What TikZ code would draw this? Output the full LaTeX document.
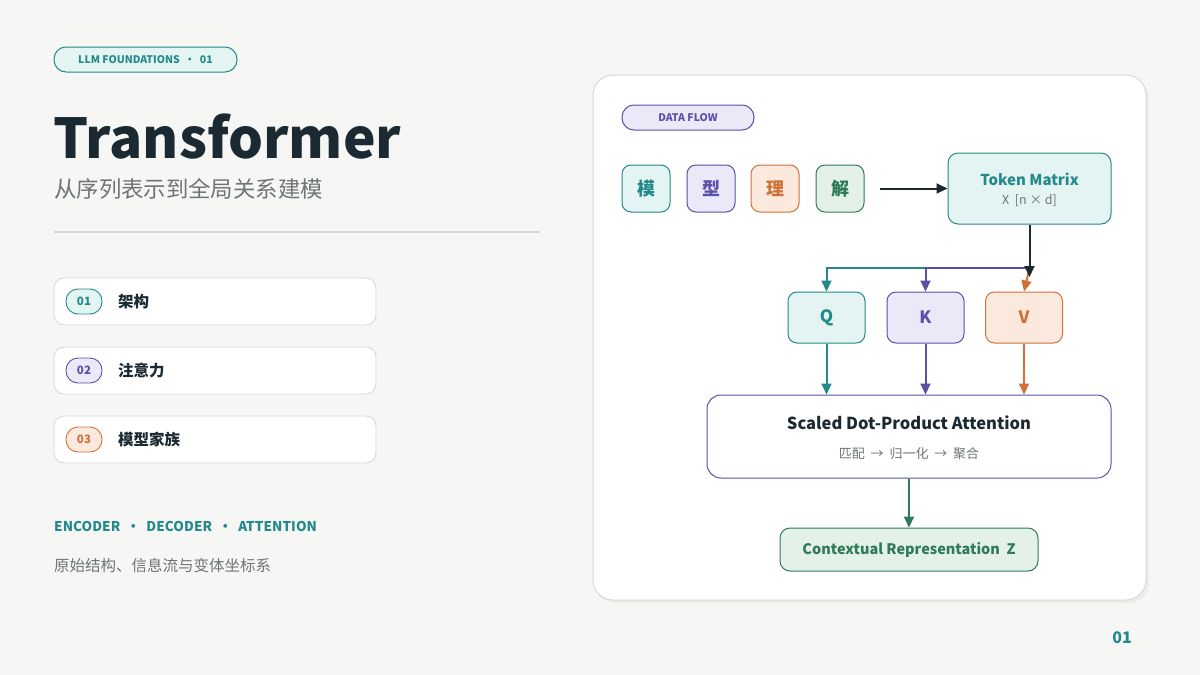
\documentclass[tikz,border=0pt]{standalone}
\usepackage{fontspec}
\setmainfont{Noto Sans CJK SC}
\usetikzlibrary{arrows.meta}
\definecolor{bgc}{HTML}{F6F7F5}
\definecolor{cteal}{HTML}{23898A}
\definecolor{ctealf}{HTML}{E4F4F2}
\definecolor{cpur}{HTML}{5A50A8}
\definecolor{cpurf}{HTML}{EBE9F8}
\definecolor{corg}{HTML}{D0713A}
\definecolor{corgf}{HTML}{FBE9DE}
\definecolor{cgrn}{HTML}{2F7A58}
\definecolor{cgrnf}{HTML}{E4F1E8}
\definecolor{cdark}{HTML}{1B2A32}
\definecolor{cgray}{HTML}{6E7477}
\definecolor{cline}{HTML}{D6D9D7}
\tikzset{
  fs/.style={font=\fontsize{#1}{#1}\selectfont},
  fsb/.style={font=\fontsize{#1}{#1}\selectfont\bfseries},
  card/.style={draw=cline, fill=white, rounded corners=10pt, line width=0.9pt},
  pill/.style={rounded corners=12pt, line width=1pt},
  tok/.style={rounded corners=9pt, line width=1pt, minimum width=48pt, minimum height=47pt, inner sep=0pt},
  qkv/.style={rounded corners=9pt, line width=1pt, minimum width=77pt, minimum height=51pt, inner sep=0pt},
  tipc/.style={-{Triangle[length=11pt,width=10pt]}},
  arr/.style={line width=2pt, tipc},
}
\begin{document}
\begin{tikzpicture}[x=1pt,y=-1pt]
\useasboundingbox (0,0) rectangle (1200,675);
\fill[bgc] (0,0) rectangle (1200,675);

% top badge
\node[pill, draw=cteal, fill=ctealf, minimum width=183pt, minimum height=25pt, inner sep=0pt, text=cteal, fsb=10.5] (badge) at (145.5,59.5) {LLM FOUNDATIONS\ \ •\ \ 01};

% title
\node[anchor=base west, inner sep=0pt, text=cdark, fsb=55] (title) at (53,158) {Transformer};
\node[anchor=base west, inner sep=0pt, text=cgray, fs=22.4] (sub) at (54,197) {从序列表示到全局关系建模};
\draw[cline, line width=1.2pt] (54,232) -- (540,232);

% list cards
\foreach \y/\n/\t/\c/\f [count=\i] in {301.5/01/架构/cteal/ctealf, 370.5/02/注意力/cpur/cpurf, 439.5/03/模型家族/corg/corgf}{
  \node[card, minimum width=322pt, minimum height=47pt, inner sep=0pt] (card\i) at (215,\y) {};
  \node[draw=\c, fill=\f, rounded corners=12pt, line width=0.9pt, minimum width=36pt, minimum height=25pt, inner sep=0pt, text=\c, fsb=11.5] (num\i) at (84,\y) {\n};
  \node[anchor=west, inner sep=0pt, text=cdark, fsb=15.5] (lab\i) at (118,\y) {\t};
}

% bottom-left text
\node[anchor=west, inner sep=0pt, text=cteal, fsb=13.5] (tags) at (54,526) {\addfontfeatures{LetterSpace=0.5}ENCODER\ \ •\ \ DECODER\ \ •\ \ ATTENTION};
\node[anchor=west, inner sep=0pt, text=cgray, fs=15.5] (desc) at (54,566) {原始结构、信息流与变体坐标系};

% right panel
\fill[black, opacity=0.04, rounded corners=20pt] (595,78) rectangle (1149,603);
\draw[cline, fill=white, rounded corners=20pt, line width=1pt] (593,75) rectangle (1146,600);

\node[pill, draw=cpur, fill=cpurf, minimum width=132pt, minimum height=25pt, inner sep=0pt, text=cpur, fsb=10.5] (flow) at (688,117.5) {DATA FLOW};

\node[tok, draw=cteal, fill=ctealf, text=cteal, fsb=18] (t1) at (646,188.5) {模};
\node[tok, draw=cpur, fill=cpurf, text=cpur, fsb=18] (t2) at (711,188.5) {型};
\node[tok, draw=corg, fill=corgf, text=corg, fsb=18] (t3) at (775,188.5) {理};
\node[tok, draw=cgrn, fill=cgrnf, text=cgrn, fsb=18] (t4) at (840,188.5) {解};

\node[draw=cteal, fill=ctealf, rounded corners=10pt, line width=1pt, minimum width=163pt, minimum height=71pt, inner sep=0pt] (tm) at (1029.5,188.5) {};
\node[text=cteal, fsb=15, inner sep=0pt] (tmt) at (1029.5,179) {Token Matrix};
\node[text=cgray, fs=12.5, inner sep=0pt] (tms) at (1029.5,201) {X\ \ [n × d]};

\coordinate (a0) at (880,188.5);
\draw[arr, cdark] (a0) -- (tm.west);

\node[qkv, draw=cteal, fill=ctealf, text=cteal, fsb=17] (q) at (826.5,317.5) {Q};
\node[qkv, draw=cpur, fill=cpurf, text=cpur, fsb=17] (k) at (925.5,317.5) {K};
\node[qkv, draw=corg, fill=corgf, text=corg, fsb=17] (v) at (1024,317.5) {V};

\coordinate (j) at (1029.5,268);
\coordinate (j2) at (1029.5,277);
\draw[arr, cteal] (j) -| (q.north);
\draw[arr, cpur] (j) -| (k.north);
\draw[arr, corg] (j) -- (v.north);
\draw[arr, cdark] (tm.south) -- (j2);

\node[draw=cpur, fill=white, rounded corners=14pt, line width=1pt, minimum width=404pt, minimum height=83pt, inner sep=0pt] (att) at (909,436.5) {};
\node[text=cdark, fsb=16.5, inner sep=0pt] (attt) at (909,423) {Scaled Dot-Product Attention};
\node[text=cgray, fs=13, inner sep=0pt] (atts) at (909,454) {匹配\ \ →\ \ 归一化\ \ →\ \ 聚合};

\draw[arr, cteal] (q.south) -- (q.south |- att.north);
\draw[arr, cpur] (k.south) -- (k.south |- att.north);
\draw[arr, corg] (v.south) -- (v.south |- att.north);

\node[draw=cgrn, fill=cgrnf, rounded corners=10pt, line width=1pt, minimum width=258pt, minimum height=43pt, inner sep=0pt, text=cgrn, fsb=14.5] (ctx) at (909,549.5) {Contextual Representation\ \ Z};
\draw[arr, cgrn] (att.south) -- (ctx.north);

\node[text=cteal, fsb=16, inner sep=0pt] (pg) at (1122,638) {01};
\end{tikzpicture}
\end{document}
